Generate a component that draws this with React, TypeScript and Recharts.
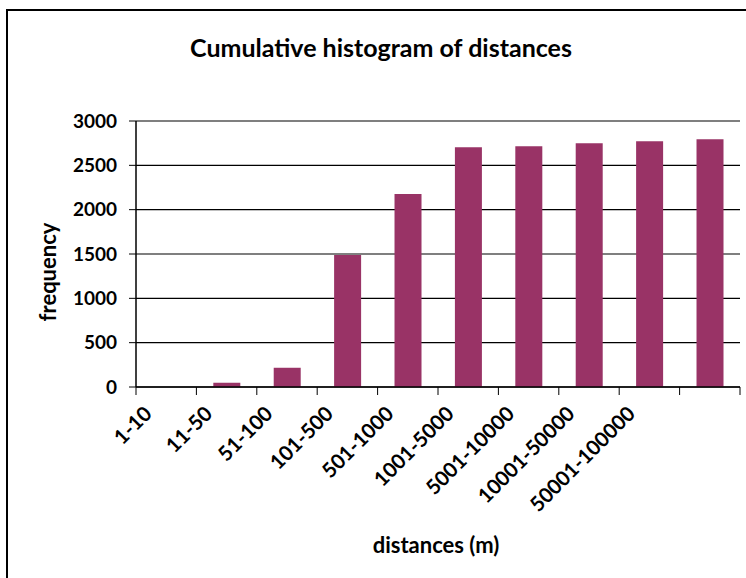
import { BarChart, Bar, XAxis, YAxis, CartesianGrid } from "recharts";

const categories = [
  "1-10",
  "11-50",
  "51-100",
  "101-500",
  "501-1000",
  "1001-5000",
  "5001-10000",
  "10001-50000",
  "50001-100000",
  "",
];
const frequency = [0, 48, 217, 1490, 2178, 2703, 2714, 2748, 2771, 2794];
const yTicks = [0, 500, 1000, 1500, 2000, 2500, 3000];

const DATA = categories.map((c, i) => ({ range: c, frequency: frequency[i] }));

const FONT = "Lato, 'Open Sans', sans-serif";

// category labels sit at the band centre, the tick marks sit on band edges
function XTick(props: any) {
  const { x, y, payload, index, width, visibleTicksCount } = props;
  const count = visibleTicksCount || categories.length;
  const band = (width || 604) / count;
  const left = x - band / 2;
  const right = x + band / 2;
  const tx = x - 13;
  const ty = y + 28;
  return (
    <g>
      <line x1={left} y1={y} x2={left} y2={y + 8} stroke="#000" />
      {index === count - 1 && <line x1={right} y1={y} x2={right} y2={y + 8} stroke="#000" />}
      <text
        x={tx}
        y={ty}
        transform={`rotate(-45 ${tx} ${ty})`}
        textAnchor="end"
        fontFamily={FONT}
        fontWeight={700}
        fontSize={20.5}
        fill="#000"
      >
        {payload.value}
      </text>
    </g>
  );
}

export default function App() {
  return (
    <div
      style={{
        position: "absolute",
        left: 0,
        top: 0,
        width: 746,
        height: 578,
        overflow: "hidden",
        background: "#fff",
      }}
    >
      <div
        style={{
          position: "absolute",
          left: 6,
          top: 9,
          width: 800,
          height: 700,
          borderLeft: "2px solid #000",
          borderTop: "2px solid #000",
        }}
      />
      <div style={{ position: "absolute", left: 0, top: 0 }}>
        <BarChart
          width={746}
          height={578}
          data={DATA}
          margin={{ top: 121, right: 6, bottom: 71, left: 76 }}
          barCategoryGap="28%"
        >
          <CartesianGrid horizontal vertical={false} stroke="#000" strokeWidth={1.2} />
          <XAxis
            dataKey="range"
            interval={0}
            height={120}
            tickSize={0}
            tickMargin={0}
            tickLine={false}
            axisLine={{ stroke: "#000", strokeWidth: 1.5 }}
            tick={<XTick />}
          />
          <XAxis
            xAxisId="top"
            dataKey="range"
            orientation="top"
            height={0}
            tick={false}
            tickLine={false}
            axisLine={{ stroke: "#808080", strokeWidth: 1.5 }}
          />
          <YAxis
            domain={[0, 3000]}
            ticks={yTicks}
            width={60}
            tickSize={7}
            tickMargin={12}
            axisLine={{ stroke: "#000", strokeWidth: 1.5 }}
            tickLine={{ stroke: "#000" }}
            tick={{ fontFamily: FONT, fontWeight: 700, fontSize: 19, fill: "#000" }}
          />
          <YAxis
            yAxisId="right"
            orientation="right"
            width={0}
            domain={[0, 3000]}
            tick={false}
            tickLine={false}
            axisLine={{ stroke: "#808080", strokeWidth: 1.5 }}
          />
          <Bar dataKey="frequency" fill="#993366" isAnimationActive={false} />
        </BarChart>
      </div>
      <svg
        width={746}
        height={578}
        style={{ position: "absolute", left: 0, top: 0, pointerEvents: "none" }}
      >
        <text x={381} y={57} textAnchor="middle" fontFamily={FONT} fontWeight={700} fontSize={25} fill="#000">
          Cumulative histogram of distances
        </text>
        <text
          x={0}
          y={0}
          transform="translate(56 272) rotate(-90)"
          textAnchor="middle"
          fontFamily={FONT}
          fontWeight={700}
          fontSize={22}
          fill="#000"
        >
          frequency
        </text>
        <text x={436} y={553} textAnchor="middle" fontFamily={FONT} fontWeight={700} fontSize={22} fill="#000">
          distances (m)
        </text>
      </svg>
    </div>
  );
}
